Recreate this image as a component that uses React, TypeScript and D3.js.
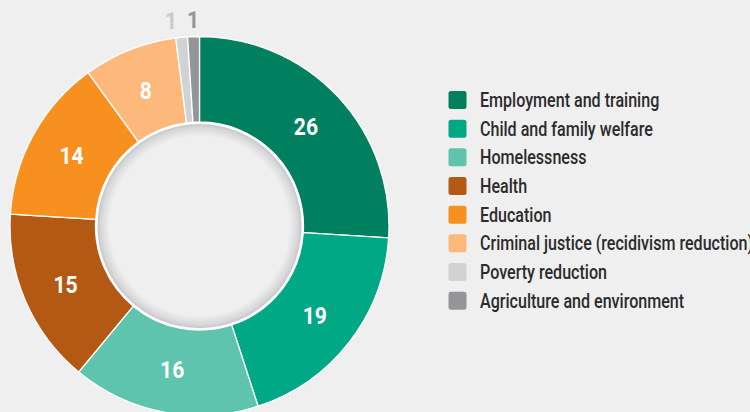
import React from "react";
import * as d3 from "d3";

const categories = [
  "Employment and training",
  "Child and family welfare",
  "Homelessness",
  "Health",
  "Education",
  "Criminal justice (recidivism reduction)",
  "Poverty reduction",
  "Agriculture and environment",
];
const values = [26, 19, 16, 15, 14, 8, 1, 1];
const colors = ["#00805e", "#00a886", "#5fc4ae", "#b35913", "#f7901e", "#fdb87c", "#d1d2d4", "#939598"];
const outsideLabelColors = ["#fff", "#fff", "#fff", "#fff", "#fff", "#fff", "#c9cacc", "#939598"];

const W = 750;
const H = 412;
const FONT = "'Liberation Sans Narrow', 'Arial Narrow', Roboto, sans-serif";

export default function App() {
  const cx = 199.5;
  const cy = 226;
  const R = 189.5;
  const r = 104;
  const pie = d3.pie<number>().sort(null).value((d) => d)(values);
  const arc = d3.arc<d3.PieArcDatum<number>>().innerRadius(r).outerRadius(R);
  const labelArc = d3.arc<d3.PieArcDatum<number>>().innerRadius(146).outerRadius(146);
  const outArc = d3.arc<d3.PieArcDatum<number>>().innerRadius(207).outerRadius(207);
  const legendY = d3.scalePoint<string>().domain(categories).range([100, 300.7]);

  return (
    <div style={{ position: "absolute", left: 0, top: 0, width: W, height: H, background: "#efefef" }}>
      <svg width={W} height={H} style={{ display: "block" }} fontFamily={FONT}>
        <defs>
          <radialGradient id="innerShade" cx="0.5" cy="0.5" r="0.5">
            <stop offset="0.88" stopColor="#efefef" />
            <stop offset="0.97" stopColor="#d6d6d8" />
            <stop offset="1" stopColor="#c4c5c7" />
          </radialGradient>
        </defs>
        <rect width={W} height={H} fill="#efefef" />
        <g transform={`translate(${cx},${cy})`}>
          {pie.map((p, i) => (
            <path key={i} d={arc(p) || ""} fill={colors[i]} stroke="#fff" strokeWidth={1.3} strokeLinejoin="round" />
          ))}
          <circle r={r} fill="#fff" />
          <circle r={r - 2} fill="url(#innerShade)" />
          {pie.map((p, i) => {
            const small = values[i] < 3;
            const [x, y] = small ? outArc.centroid(p) : labelArc.centroid(p);
            const dx = small && i === 6 ? -9 : 0;
            return (
              <g key={"l" + i} transform={`translate(${x + dx},${y}) scale(0.88,1)`}>
                <text
                  dy="0.36em"
                  textAnchor="middle"
                  fontWeight="bold"
                  fontSize={24}
                  fill={outsideLabelColors[i]}
                >
                  {values[i]}
                </text>
              </g>
            );
          })}
        </g>
        <g>
          {categories.map((c, i) => (
            <g key={c} transform={`translate(448.5,${legendY(c)})`}>
              <rect x={0} y={-9} width={18} height={18} rx={2.5} fill={colors[i]} />
              <g transform="translate(31.5,0) scale(0.825,1)">
                <text x={0} y={0} dy="0.36em" fontSize={19.5} fontWeight={500} fill="#2b2b2b">
                  {c}
                </text>
              </g>
            </g>
          ))}
        </g>
      </svg>
    </div>
  );
}
